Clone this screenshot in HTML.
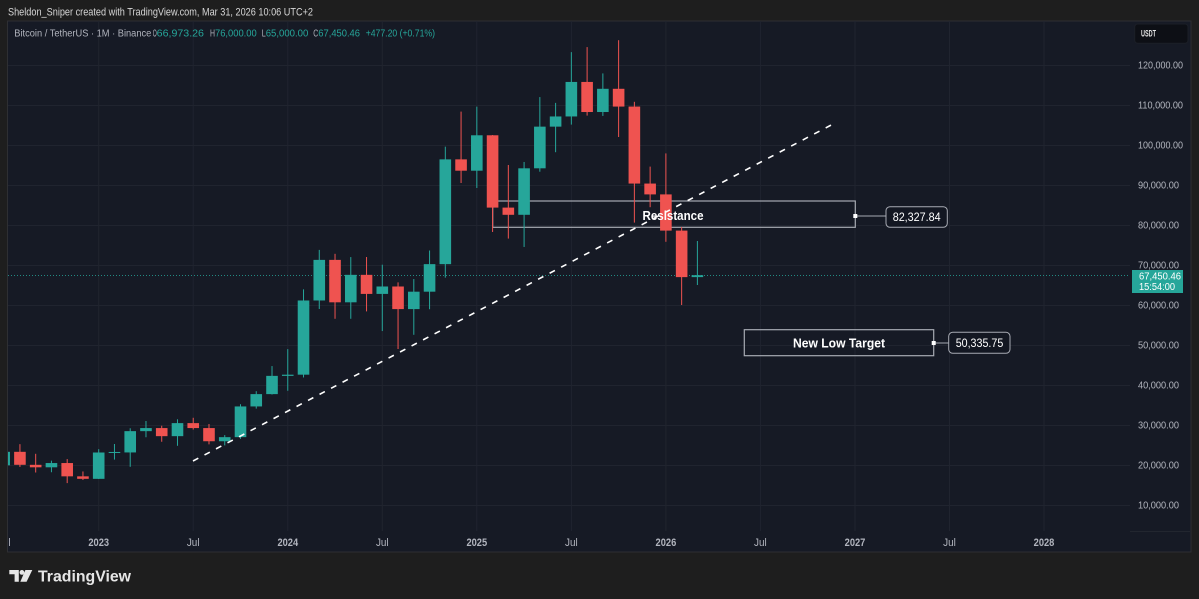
<!DOCTYPE html>
<html><head><meta charset="utf-8"><style>
html,body{margin:0;padding:0;background:#1e1e1e;width:1199px;height:599px;overflow:hidden}
svg{display:block}
text{font-family:"Liberation Sans",sans-serif}
</style></head><body>
<svg width="1199" height="599" viewBox="0 0 1199 599" xmlns="http://www.w3.org/2000/svg">
<defs>
<clipPath id="plot"><rect x="8" y="21" width="1122" height="510"/></clipPath>
<clipPath id="panel"><rect x="8" y="21" width="1182" height="531"/></clipPath>
</defs>
<rect width="1199" height="599" fill="#1e1e1e"/>
<text x="8" y="15.7" font-size="10.8" fill="#d6d6d6" textLength="305" lengthAdjust="spacingAndGlyphs">Sheldon_Sniper created with TradingView.com, Mar 31, 2026 10:06 UTC+2</text>
<rect x="7.5" y="21" width="1183.5" height="531" fill="#161a25" stroke="#2e2f33" stroke-width="1"/>

<g clip-path="url(#plot)" stroke="#20242f" stroke-width="1">
<path d="M8 65.5H1130M8 105.5H1130M8 145.5H1130M8 185.5H1130M8 225.5H1130M8 265.5H1130M8 305.5H1130M8 345.5H1130M8 385.5H1130M8 425.5H1130M8 465.5H1130M8 505.5H1130"/>
<path d="M98.7 21V531M193.2 21V531M287.8 21V531M382.3 21V531M476.8 21V531M571.4 21V531M665.9 21V531M760.4 21V531M855 21V531M949.5 21V531M1044 21V531"/>
</g>
<path d="M1130 531.5H1190" stroke="#22262f"/>

<g clip-path="url(#plot)">
<rect x="492.7" y="201" width="362.6" height="26.3" fill="none" stroke="#a7aab3" stroke-width="1.2"/>
<path d="M8 275.5H1132" stroke="#26a69a" stroke-width="1" stroke-dasharray="1 2" opacity="0.8"/>

<g fill="#26a69a">
<rect x="3.67" y="446.33" width="1" height="23.55"/><rect x="-1.63" y="451.82" width="11.6" height="13.48"/>
<rect x="50.94" y="460.66" width="1" height="11.58"/><rect x="45.64" y="463.04" width="11.6" height="4.27"/>
<rect x="98.2" y="449.16" width="1" height="29.84"/><rect x="92.9" y="452.5" width="11.6" height="26.34"/>
<rect x="113.96" y="444" width="1" height="15.6"/><rect x="108.66" y="451.97" width="11.6" height="1"/>
<rect x="129.71" y="428.26" width="1" height="38.54"/><rect x="124.41" y="431.14" width="11.6" height="21.3"/>
<rect x="145.47" y="421" width="1" height="16.23"/><rect x="140.17" y="428.07" width="11.6" height="3.07"/>
<rect x="176.98" y="419.28" width="1" height="26.52"/><rect x="171.68" y="423.11" width="11.6" height="13.05"/>
<rect x="224.24" y="435.07" width="1" height="10.33"/><rect x="218.94" y="437.15" width="11.6" height="4.09"/>
<rect x="240" y="404.21" width="1" height="34.64"/><rect x="234.7" y="406.44" width="11.6" height="30.71"/>
<rect x="255.75" y="391.2" width="1" height="17.41"/><rect x="250.45" y="394.11" width="11.6" height="12.33"/>
<rect x="271.51" y="366.08" width="1" height="28.46"/><rect x="266.21" y="375.87" width="11.6" height="18.24"/>
<rect x="287.26" y="349.12" width="1" height="41.66"/><rect x="281.96" y="374.68" width="11.6" height="1.2"/>
<rect x="303.02" y="289.35" width="1" height="88.11"/><rect x="297.72" y="300.48" width="11.6" height="74.2"/>
<rect x="318.77" y="249.89" width="1" height="59.09"/><rect x="313.47" y="259.88" width="11.6" height="40.6"/>
<rect x="350.28" y="257.08" width="1" height="61.7"/><rect x="344.98" y="274.84" width="11.6" height="27.47"/>
<rect x="381.79" y="264.68" width="1" height="66.38"/><rect x="376.49" y="286.49" width="11.6" height="7.42"/>
<rect x="413.3" y="279.01" width="1" height="55.79"/><rect x="408" y="291.69" width="11.6" height="17.41"/>
<rect x="429.06" y="250.52" width="1" height="58.7"/><rect x="423.76" y="264.14" width="11.6" height="27.55"/>
<rect x="444.81" y="146.65" width="1" height="131.01"/><rect x="439.51" y="159.37" width="11.6" height="104.77"/>
<rect x="476.32" y="106.65" width="1" height="81.33"/><rect x="471.02" y="135.28" width="11.6" height="35.42"/>
<rect x="523.59" y="161.97" width="1" height="85"/><rect x="518.29" y="168.31" width="11.6" height="46.49"/>
<rect x="539.34" y="97.08" width="1" height="74.63"/><rect x="534.04" y="126.64" width="11.6" height="41.67"/>
<rect x="555.1" y="102.88" width="1" height="49.32"/><rect x="549.8" y="116.46" width="11.6" height="10.18"/>
<rect x="570.85" y="52.13" width="1" height="72.47"/><rect x="565.55" y="81.94" width="11.6" height="34.52"/>
<rect x="602.36" y="73.4" width="1" height="42.52"/><rect x="597.06" y="88.8" width="11.6" height="23.22"/>
<rect x="696.89" y="241" width="1" height="44"/><rect x="691.59" y="275.2" width="11.6" height="1.91"/>
</g>
<g fill="#ef5350">
<rect x="19.43" y="444.16" width="1" height="22.76"/><rect x="14.13" y="451.82" width="11.6" height="12.98"/>
<rect x="35.18" y="453.8" width="1" height="18.7"/><rect x="29.88" y="464.81" width="11.6" height="2.5"/>
<rect x="66.69" y="459.08" width="1" height="24.02"/><rect x="61.39" y="463.04" width="11.6" height="13.3"/>
<rect x="82.45" y="471.45" width="1" height="8.53"/><rect x="77.15" y="476.34" width="11.6" height="2.49"/>
<rect x="161.22" y="425.72" width="1" height="16.04"/><rect x="155.92" y="428.07" width="11.6" height="8.09"/>
<rect x="192.73" y="417.78" width="1" height="11.78"/><rect x="187.43" y="423.11" width="11.6" height="4.96"/>
<rect x="208.49" y="424.02" width="1" height="20.32"/><rect x="203.19" y="428.07" width="11.6" height="13.17"/>
<rect x="334.53" y="253.81" width="1" height="64.98"/><rect x="329.23" y="259.88" width="11.6" height="42.43"/>
<rect x="366.04" y="257.01" width="1" height="54.38"/><rect x="360.74" y="274.84" width="11.6" height="19.07"/>
<rect x="397.55" y="282.36" width="1" height="66.64"/><rect x="392.25" y="286.49" width="11.6" height="22.61"/>
<rect x="460.57" y="111.59" width="1" height="71.41"/><rect x="455.27" y="159.37" width="11.6" height="11.33"/>
<rect x="492.08" y="135" width="1" height="96.97"/><rect x="486.78" y="135.28" width="11.6" height="72.32"/>
<rect x="507.83" y="165" width="1" height="73.58"/><rect x="502.53" y="207.6" width="11.6" height="7.2"/>
<rect x="586.61" y="47.1" width="1" height="68.5"/><rect x="581.31" y="81.94" width="11.6" height="30.08"/>
<rect x="618.12" y="40.2" width="1" height="96.8"/><rect x="612.82" y="88.8" width="11.6" height="17.77"/>
<rect x="633.87" y="101.8" width="1" height="120.8"/><rect x="628.57" y="106.57" width="11.6" height="76.99"/>
<rect x="649.63" y="166.6" width="1" height="40.6"/><rect x="644.33" y="183.56" width="11.6" height="10.84"/>
<rect x="665.38" y="153.4" width="1" height="88.4"/><rect x="660.08" y="194.4" width="11.6" height="36.2"/>
<rect x="681.14" y="227" width="1" height="78"/><rect x="675.84" y="230.6" width="11.6" height="46.52"/>
</g>

<path d="M193 461L835 123" stroke="#ffffff" stroke-width="1.6" stroke-dasharray="6 7"/>

<text x="673" y="220" font-size="12.5" font-weight="bold" fill="#ffffff" text-anchor="middle" textLength="61" lengthAdjust="spacingAndGlyphs">Resistance</text>

<rect x="744.3" y="329.7" width="189.4" height="26" fill="none" stroke="#a7aab3" stroke-width="1.2"/>
<text x="839" y="347.5" font-size="12.5" font-weight="bold" fill="#ffffff" text-anchor="middle" textLength="92" lengthAdjust="spacingAndGlyphs">New Low Target</text>
</g>

<path d="M855.3 216H886" stroke="#a7aab3" stroke-width="1"/>
<rect x="853.3" y="214" width="4" height="4" fill="#ffffff"/>
<rect x="886" y="206.7" width="61.3" height="20.6" rx="4" fill="#131722" stroke="#a7aab3" stroke-width="1"/>
<text x="916.7" y="221" font-size="11.5" fill="#ffffff" text-anchor="middle" textLength="48" lengthAdjust="spacingAndGlyphs">82,327.84</text>

<path d="M933.7 343H948.7" stroke="#a7aab3" stroke-width="1"/>
<rect x="931.7" y="341" width="4" height="4" fill="#ffffff"/>
<rect x="948.7" y="332.3" width="61.3" height="21" rx="4" fill="#131722" stroke="#a7aab3" stroke-width="1"/>
<text x="979.5" y="347" font-size="11.5" fill="#ffffff" text-anchor="middle" textLength="47.6" lengthAdjust="spacingAndGlyphs">50,335.75</text>

<g font-size="10">
<text x="14.3" y="36.5" fill="#b2b5be" textLength="137" lengthAdjust="spacingAndGlyphs">Bitcoin / TetherUS · 1M · Binance</text>
<text x="152.7" y="36.5" fill="#b2b5be" textLength="4" lengthAdjust="spacingAndGlyphs">O</text>
<text x="156.7" y="36.5" fill="#26a69a" textLength="47.3" lengthAdjust="spacingAndGlyphs">66,973.26</text>
<text x="210" y="36.5" fill="#b2b5be" textLength="5" lengthAdjust="spacingAndGlyphs">H</text>
<text x="215" y="36.5" fill="#26a69a" textLength="41.7" lengthAdjust="spacingAndGlyphs">76,000.00</text>
<text x="261.7" y="36.5" fill="#b2b5be" textLength="4" lengthAdjust="spacingAndGlyphs">L</text>
<text x="265.7" y="36.5" fill="#26a69a" textLength="42.6" lengthAdjust="spacingAndGlyphs">65,000.00</text>
<text x="313.3" y="36.5" fill="#b2b5be" textLength="5" lengthAdjust="spacingAndGlyphs">C</text>
<text x="318.3" y="36.5" fill="#26a69a" textLength="41.7" lengthAdjust="spacingAndGlyphs">67,450.46</text>
<text x="365.7" y="36.5" fill="#26a69a" textLength="69.3" lengthAdjust="spacingAndGlyphs">+477.20 (+0.71%)</text>
</g>

<rect x="1134.7" y="24" width="53.3" height="19.3" rx="3" fill="#0d0f15" stroke="#1c1f27"/>
<text x="1141" y="36.6" font-size="9" font-weight="bold" fill="#e6e6e6" textLength="15" lengthAdjust="spacingAndGlyphs">USDT</text>

<g font-size="10.2" fill="#b2b5be">
<text x="1138" y="68.7" textLength="45" lengthAdjust="spacingAndGlyphs">120,000.00</text>
<text x="1138" y="108.7" textLength="45" lengthAdjust="spacingAndGlyphs">110,000.00</text>
<text x="1138" y="148.7" textLength="45" lengthAdjust="spacingAndGlyphs">100,000.00</text>
<text x="1138" y="188.7" textLength="41" lengthAdjust="spacingAndGlyphs">90,000.00</text>
<text x="1138" y="228.7" textLength="41" lengthAdjust="spacingAndGlyphs">80,000.00</text>
<text x="1138" y="268.7" textLength="41" lengthAdjust="spacingAndGlyphs">70,000.00</text>
<text x="1138" y="308.7" textLength="41" lengthAdjust="spacingAndGlyphs">60,000.00</text>
<text x="1138" y="348.7" textLength="41" lengthAdjust="spacingAndGlyphs">50,000.00</text>
<text x="1138" y="388.7" textLength="41" lengthAdjust="spacingAndGlyphs">40,000.00</text>
<text x="1138" y="428.7" textLength="41" lengthAdjust="spacingAndGlyphs">30,000.00</text>
<text x="1138" y="468.7" textLength="41" lengthAdjust="spacingAndGlyphs">20,000.00</text>
<text x="1138" y="508.7" textLength="41" lengthAdjust="spacingAndGlyphs">10,000.00</text>
</g>
<rect x="1132" y="270" width="51" height="23" fill="#26a69a"/>
<text x="1139" y="279.5" font-size="10" fill="#ffffff" textLength="42" lengthAdjust="spacingAndGlyphs">67,450.46</text>
<text x="1139" y="290" font-size="10" fill="#ffffff" textLength="36" lengthAdjust="spacingAndGlyphs">15:54:00</text>

<g clip-path="url(#panel)" font-size="10.8" fill="#b2b5be" text-anchor="middle">
<text x="4.2" y="546" textLength="12.7" lengthAdjust="spacingAndGlyphs">Jul</text>
<text x="98.7" y="546" font-weight="bold" textLength="20.7" lengthAdjust="spacingAndGlyphs">2023</text>
<text x="193.2" y="546" textLength="12.7" lengthAdjust="spacingAndGlyphs">Jul</text>
<text x="287.8" y="546" font-weight="bold" textLength="20.7" lengthAdjust="spacingAndGlyphs">2024</text>
<text x="382.3" y="546" textLength="12.7" lengthAdjust="spacingAndGlyphs">Jul</text>
<text x="476.8" y="546" font-weight="bold" textLength="20.7" lengthAdjust="spacingAndGlyphs">2025</text>
<text x="571.4" y="546" textLength="12.7" lengthAdjust="spacingAndGlyphs">Jul</text>
<text x="665.9" y="546" font-weight="bold" textLength="20.7" lengthAdjust="spacingAndGlyphs">2026</text>
<text x="760.4" y="546" textLength="12.7" lengthAdjust="spacingAndGlyphs">Jul</text>
<text x="855" y="546" font-weight="bold" textLength="20.7" lengthAdjust="spacingAndGlyphs">2027</text>
<text x="949.5" y="546" textLength="12.7" lengthAdjust="spacingAndGlyphs">Jul</text>
<text x="1044" y="546" font-weight="bold" textLength="20.7" lengthAdjust="spacingAndGlyphs">2028</text>
</g>

<g fill="#e6e6e6">
<path d="M9.3 570H18.8V581.7H14.6V574.3H9.3Z"/>
<circle cx="21.9" cy="572.4" r="2.4"/>
<path d="M25.4 570H32.3L26.6 581.7H20.3Z"/>
</g>
<text x="38" y="581.7" font-size="16" font-weight="bold" fill="#e6e6e6" textLength="93" lengthAdjust="spacingAndGlyphs">TradingView</text>
</svg>
</body></html>
